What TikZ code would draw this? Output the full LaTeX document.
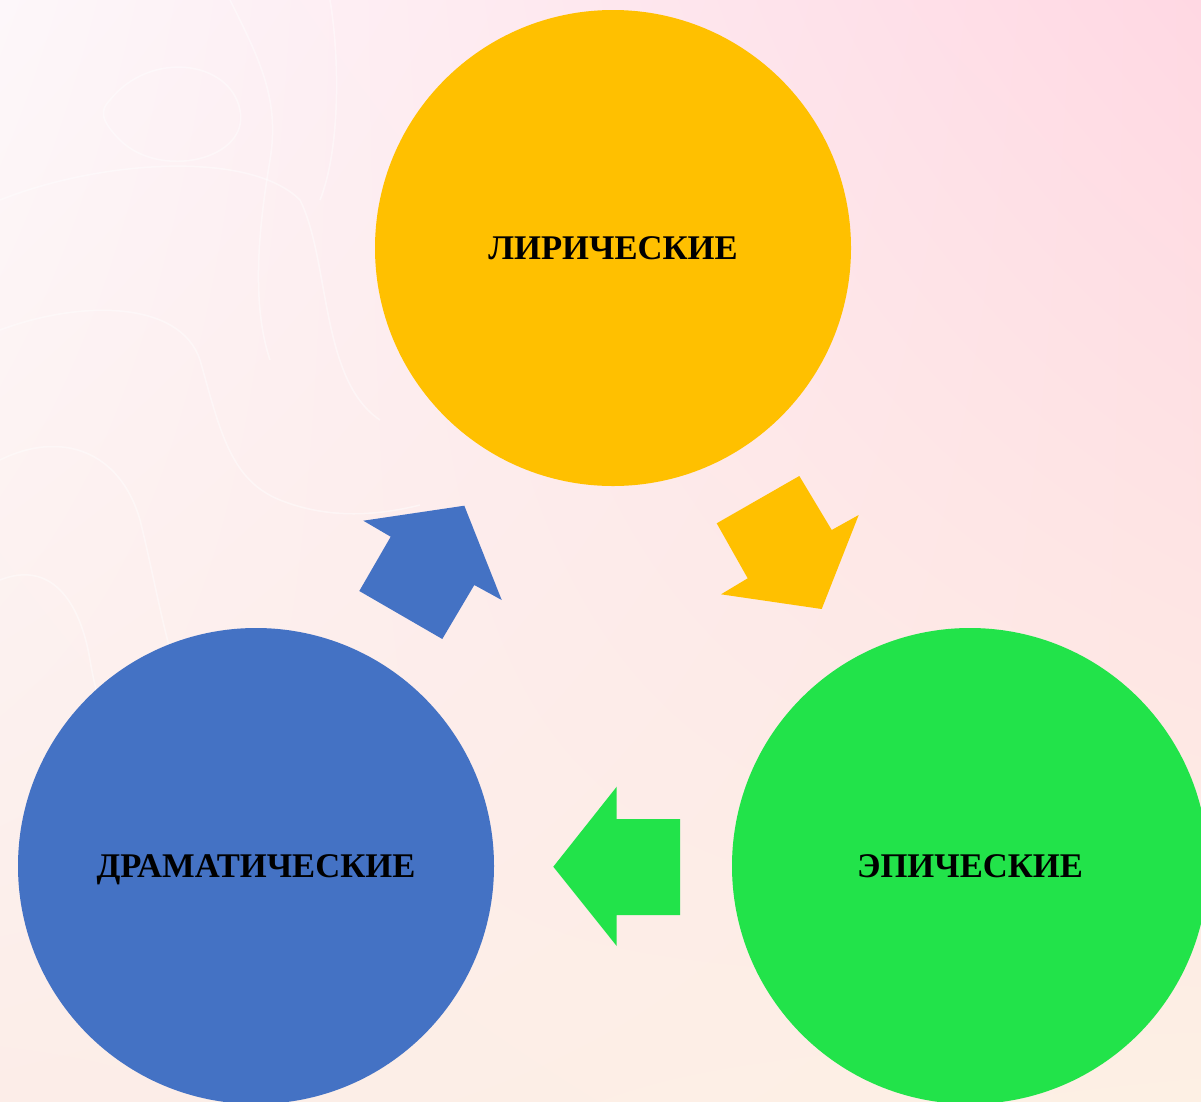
\documentclass[tikz,border=0pt]{standalone}
\usepackage{fontspec}
\setmainfont{Liberation Serif}
\usetikzlibrary{shadings}
\begin{document}
\begin{tikzpicture}[x=1pt,y=-1pt,
  genre/.style={circle, minimum size=476pt, inner sep=0pt, text height=22pt, text depth=0pt, font=\fontsize{34.6}{40}\selectfont\bfseries, text=black},
  blockarrow/.style={draw=none}]
\definecolor{cyellow}{HTML}{FFC000}
\definecolor{cblue}{HTML}{4472C4}
\definecolor{cgreen}{HTML}{22E34A}
\definecolor{bgul}{HTML}{FDF7FA}
\definecolor{bgur}{HTML}{FFD8E3}
\definecolor{bgll}{HTML}{FCEDE8}
\definecolor{bglr}{HTML}{FDF0E4}
\useasboundingbox (0,0) rectangle (1201,1101);
\clip (0,0) rectangle (1201,1101);
\shade[upper left=bgul, upper right=bgur, lower left=bgll, lower right=bglr] (0,0) rectangle (1201,1101);
% faint background swirls
\begin{scope}[white, opacity=0.45, line width=1.5pt]
  \draw (110,100) .. controls (150,50) and (230,60) .. (240,110) .. controls (250,160) and (160,180) .. (120,140) .. controls (100,120) and (100,110) .. (110,100);
  \draw (0,200) .. controls (100,160) and (250,150) .. (300,200) .. controls (330,260) and (320,380) .. (380,420);
  \draw (0,330) .. controls (80,300) and (180,300) .. (200,360) .. controls (220,430) and (230,480) .. (280,500) .. controls (330,520) and (380,515) .. (420,505);
  \draw (0,460) .. controls (60,430) and (120,450) .. (140,520) .. controls (160,600) and (170,680) .. (200,720);
  \draw (0,580) .. controls (50,560) and (80,600) .. (90,660) .. controls (100,720) and (120,760) .. (140,800);
  \draw (230,0) .. controls (260,60) and (280,100) .. (270,160) .. controls (260,220) and (250,300) .. (270,360);
  \draw (330,0) .. controls (340,60) and (340,150) .. (320,200);
\end{scope}
% circles
\node[genre, fill=cyellow] (lyr) at (613,248) {ЛИРИЧЕСКИЕ};
\node[genre, fill=cblue] (dram) at (256,866) {ДРАМАТИЧЕСКИЕ};
\node[genre, fill=cgreen] (epic) at (970,866) {ЭПИЧЕСКИЕ};
% block arrows
\fill[blockarrow, cblue] (363.3,520.7) -- (464.3,505.7) -- (501.7,600) -- (474.3,585) -- (442.3,639) -- (359.3,591) -- (390.7,536.7) -- cycle;
\fill[blockarrow, cyellow] (716.7,523.3) -- (799.3,476) -- (831.7,530) -- (858.7,515) -- (821.7,609) -- (721,594.3) -- (747.7,578.3) -- cycle;
\fill[blockarrow, cgreen] (553.3,866.7) -- (616.7,786.7) -- (616.7,819) -- (680,819) -- (680,915) -- (616.7,915) -- (616.7,946) -- cycle;
\end{tikzpicture}
\end{document}
